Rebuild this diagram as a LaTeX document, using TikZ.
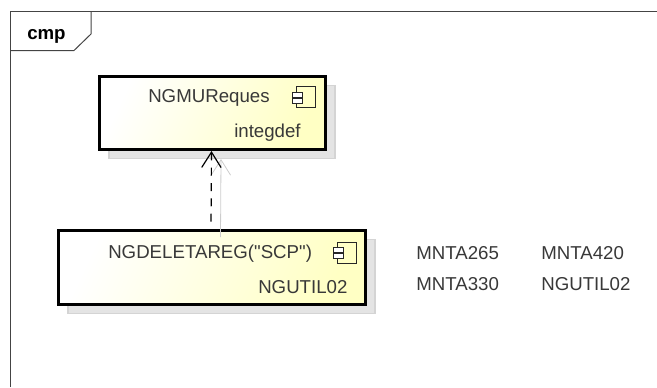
\documentclass[tikz,border=0pt]{standalone}
\usepackage{fontspec}
\setmainfont{Liberation Sans}
\newfontfamily\complabelfont{Liberation Sans}
\usepackage{xcolor}
\usetikzlibrary{shadows,arrows.meta}

\definecolor{compyellow}{HTML}{FFFFC4}
\definecolor{shadowgray}{HTML}{E4E4E4}
\definecolor{shadowedge}{HTML}{D4D4D4}
\definecolor{framegray}{HTML}{444444}

\tikzset{
  compbox/.style={draw=black, line width=2.25pt, inner sep=0pt,
    drop shadow={shadow xshift=7pt, shadow yshift=-6.75pt, fill=shadowgray, draw=shadowedge, line width=1pt, opacity=1},
    left color=white, right color=compyellow, shading angle=65},
  complabel/.style={anchor=base west, inner sep=0pt, font=\complabelfont\fontsize{14}{16}\selectfont, text=black!78},
  depline/.style={line width=0.9pt, dash pattern=on 6pt off 5.5pt, dash phase=6pt, -{Straight Barb[length=11.5pt,width=14.5pt]}},
  depshadow/.style={line width=0.6pt, draw=black!20, -{Straight Barb[length=11.5pt,width=14.5pt]}},
  iconline/.style={line width=0.75pt, draw=black!85, fill=none}
}

\begin{document}
\begin{tikzpicture}[x=0.75pt, y=-0.75pt]
  \useasboundingbox (0,0) rectangle (657,387);

  % Draw the frame and its tab
  \draw[framegray, line width=0.75pt] (10,387) -- (10,11.5) -- (657,11.5);
  \draw[framegray, line width=0.75pt] (10,50.5) -- (74,50.5) -- (91,34) -- (91,11.5);
  \node[anchor=base west, inner sep=0pt, font=\bfseries\fontsize{14}{16}\selectfont] (cmptab) at (27,39) {cmp};

  % Draw the two components
  \node[compbox, minimum width=169.5pt, minimum height=54.75pt] (ngmu) at (212.5,113) {};
  \node[compbox, minimum width=230.25pt, minimum height=55.5pt] (ngdeleta) at (212,267.5) {};

  % Dependency and its shadow
  \draw[depshadow] ([shift={(8.5,8)}]ngdeleta.north) -- ([shift={(8.5,8)}]ngmu.south);
  \draw[depline] ([xshift=-0.75pt]ngdeleta.north) -- ([xshift=-0.75pt]ngmu.south);

  % Component texts
  \node[complabel] (ngmuname) at (148,102) {NGMUReques};
  \node[complabel] (ngmuowner) at (234,137) {integdef};
  \node[complabel] (ngdeletaname) at (108,258) {NGDELETAREG("SCP")};
  \node[complabel] (ngdeletaowner) at (258,293) {NGUTIL02};

  % Icon of the upper component
  \draw[iconline] (296,86) rectangle (315,107);
  \fill[white] (292,92) rectangle (302,97);
  \fill[white] (292,98) rectangle (302,103);
  \draw[iconline] (292,92) rectangle (302,97);
  \draw[iconline] (292,98) rectangle (302,103);

  % Icon of the lower component
  \draw[iconline] (337,242) rectangle (356,263);
  \fill[white] (333,247) rectangle (343,252);
  \fill[white] (333,253) rectangle (343,258);
  \draw[iconline] (333,247) rectangle (343,252);
  \draw[iconline] (333,253) rectangle (343,258);

  % Names beside the diagram
  \node[complabel] (mnta265) at (416,259) {MNTA265};
  \node[complabel] (mnta420) at (541,259) {MNTA420};
  \node[complabel] (mnta330) at (416,290) {MNTA330};
  \node[complabel] (ngutil02) at (541,290) {NGUTIL02};
\end{tikzpicture}
\end{document}
